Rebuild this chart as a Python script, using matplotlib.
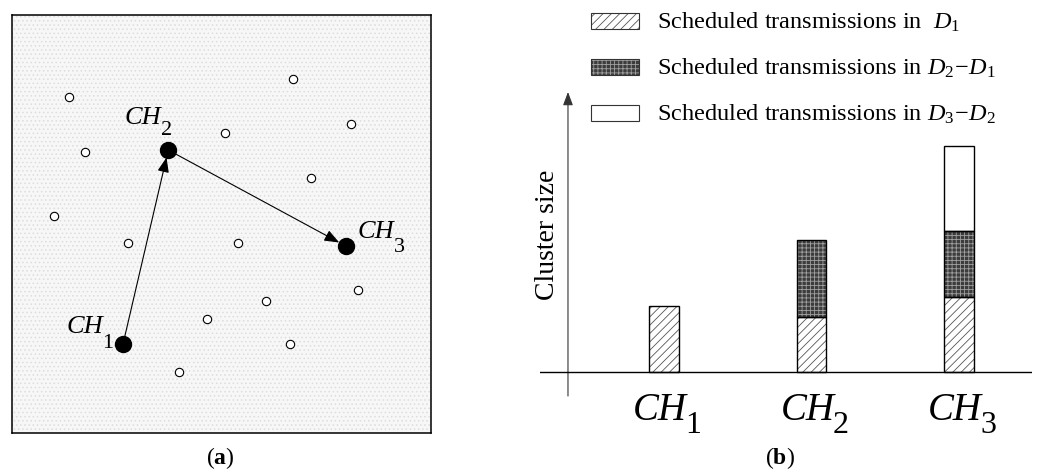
import numpy as np
import matplotlib
matplotlib.use("Agg")
import matplotlib.pyplot as plt
from matplotlib.patches import Rectangle

plt.rcParams["font.family"] = ["Liberation Serif", "DejaVu Serif"]
plt.rcParams["mathtext.fontset"] = "custom"
plt.rcParams["mathtext.rm"] = "Liberation Serif"
plt.rcParams["mathtext.it"] = "Liberation Serif:italic"
plt.rcParams["mathtext.bf"] = "Liberation Serif:bold"
plt.rcParams["hatch.linewidth"] = 0.6

# ---- (a) network field, coordinates in % of the field side ----
sensor_x = [13.6, 17.4, 10.0, 27.7, 67.1, 80.9, 50.8, 71.4, 53.9, 82.6, 60.6, 46.5, 66.3, 39.9]
sensor_y = [80.4, 67.3, 51.9, 45.5, 84.7, 73.9, 71.8, 61.0, 45.5, 34.2, 31.6, 27.3, 21.3, 14.6]
head_x = [26.5, 37.3, 79.7]
head_y = [21.3, 67.7, 44.7]
head_names = ["CH", "CH", "CH"]
head_index = ["1", "2", "3"]

# ---- (b) cluster sizes split by scheduling window ----
categories = ["1", "2", "3"]
sched_d1 = [6.6, 5.5, 7.5]
sched_d2_d1 = [0.0, 7.7, 6.6]
sched_d3_d2 = [0.0, 0.0, 8.5]
legend_labels = [r"Scheduled transmissions in  $D_1$",
                 r"Scheduled transmissions in $D_2\!-\!D_1$",
                 r"Scheduled transmissions in $D_3\!-\!D_2$"]

W, H = 1037, 473
fig = plt.figure(figsize=(W / 100, H / 100), dpi=100)


def px_axes(x0, y0, x1, y1):
    return fig.add_axes([x0 / W, 1 - y1 / H, (x1 - x0) / W, (y1 - y0) / H])


# ---------------- panel (a) ----------------
axa = px_axes(12, 15, 431, 433)
axa.set_xlim(0, 100)
axa.set_ylim(0, 100)
axa.set_facecolor("#f7f7f7")
axa.add_patch(Rectangle((0, 0), 100, 100, facecolor="none", edgecolor="#dddddd",
                        hatch="....", linewidth=0, zorder=0))
axa.set_xticks([])
axa.set_yticks([])
for s in axa.spines.values():
    s.set_linewidth(1.1)

axa.plot(sensor_x, sensor_y, "o", ms=6, mfc="white", mec="black", mew=0.8, zorder=3)
axa.plot(head_x, head_y, "o", ms=11.5, color="black", zorder=4)

for i in range(2):
    axa.annotate("", xy=(head_x[i + 1], head_y[i + 1]), xytext=(head_x[i], head_y[i]),
                 arrowprops=dict(arrowstyle="-|>,head_length=0.9,head_width=0.35",
                                 color="black", lw=0.8, shrinkA=0, shrinkB=5.5,
                                 mutation_scale=10), zorder=2)

# label offsets (pixels) for the "CH" part and the index
name_off = [(-57, 11), (-44, 26), (12, 8)]
idx_off = [(-21, -4), (-7, 15), (48, -6)]
for i in range(3):
    axa.annotate(head_names[i], xy=(head_x[i], head_y[i]), xytext=name_off[i],
                 textcoords="offset pixels", ha="left", va="baseline",
                 fontsize=19, fontstyle="italic")
    axa.annotate(head_index[i], xy=(head_x[i], head_y[i]), xytext=idx_off[i],
                 textcoords="offset pixels", ha="left", va="baseline", fontsize=16)

fig.text(220 / W, 1 - 458 / H, r"($\mathbf{a}$)", ha="center", va="center", fontsize=17)

# ---------------- panel (b) ----------------
axb = px_axes(540, 92, 1032, 396)
axb.set_xlim(-0.8407, 2.4949)
axb.set_ylim(-2.4, 28)
axb.axis("off")

x = np.arange(len(categories))
bw = 0.203
d1 = np.array(sched_d1)
d2 = np.array(sched_d2_d1)
d3 = np.array(sched_d3_d2)

style_d1 = dict(facecolor="white", hatch="////", edgecolor="#555555", linewidth=0)
style_d2 = dict(facecolor="#3c3c3c", hatch="++++", edgecolor="#a0a0a0", linewidth=0)
style_d3 = dict(facecolor="white", edgecolor="black", linewidth=0)

segments = [(d1, np.zeros_like(d1), style_d1),
            (d2, d1, style_d2),
            (d3, d1 + d2, style_d3)]
for vals, bottoms, st in segments:
    m = vals > 0
    axb.bar(x[m], vals[m], bw, bottom=bottoms[m], zorder=2, **st)
    axb.bar(x[m], vals[m], bw, bottom=bottoms[m], facecolor="none",
            edgecolor="black", linewidth=1.0, zorder=3)

axb.axhline(0, color="black", lw=1.0, zorder=4)
yax_x = -0.651
axb.annotate("", xy=(yax_x, 28), xytext=(yax_x, -2.4),
             arrowprops=dict(arrowstyle="-|>,head_length=0.8,head_width=0.3",
                             color="#333333", lw=0.8, shrinkA=0, shrinkB=0,
                             mutation_scale=10))

for i, c in enumerate(categories):
    axb.annotate("CH", xy=(x[i], 0), xytext=(-31, -48), textcoords="offset pixels",
                 ha="left", va="baseline", fontsize=28, fontstyle="italic")
    axb.annotate(c, xy=(x[i], 0), xytext=(21, -61), textcoords="offset pixels",
                 ha="left", va="baseline", fontsize=23)

fig.text(547 / W, 1 - 235 / H, "Cluster size", rotation=90, ha="center", va="center",
         fontsize=20)

# legend drawn as swatches + labels
row_top = [13.5, 59.5, 105.5]
for top, lab, st in zip(row_top, legend_labels, [style_d1, style_d2, style_d3]):
    y0 = 1 - (top + 16) / H
    fig.add_artist(Rectangle((591 / W, y0), 48 / W, 16 / H, transform=fig.transFigure, **st))
    fig.add_artist(Rectangle((591 / W, y0), 48 / W, 16 / H, transform=fig.transFigure,
                             facecolor="none", edgecolor="#333333", linewidth=0.8))
    fig.text(657 / W, 1 - (top + 15) / H, lab, ha="left", va="baseline", fontsize=17.5)

fig.text(780 / W, 1 - 458 / H, r"($\mathbf{b}$)", ha="center", va="center", fontsize=17)

fig.savefig("out.png", dpi=100)
